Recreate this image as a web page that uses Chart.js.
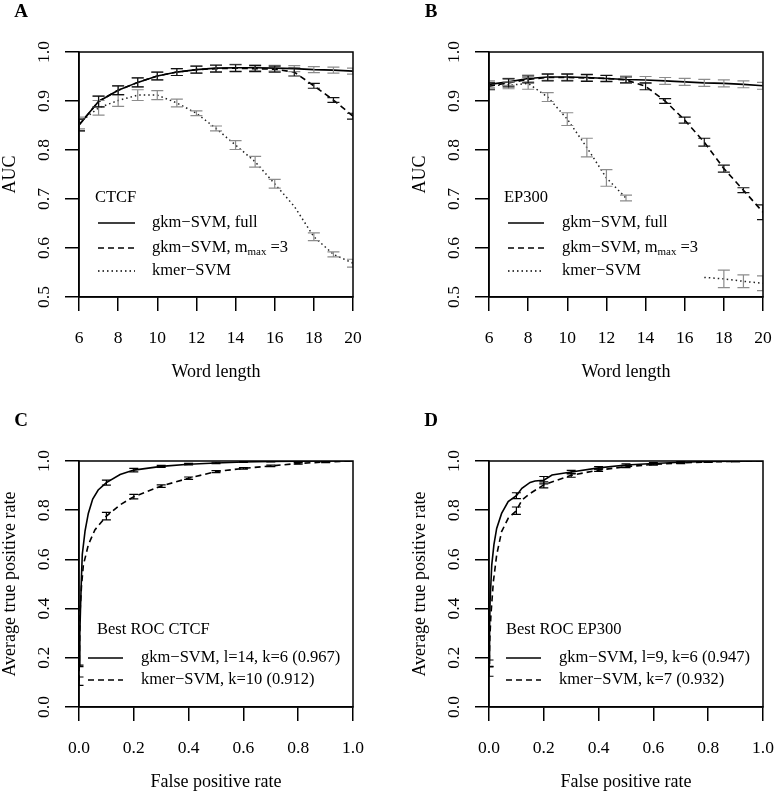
<!DOCTYPE html>
<html>
<head>
<meta charset="utf-8">
<script src="https://cdn.jsdelivr.net/npm/chart.js@4.4.1/dist/chart.umd.min.js"></script>
<style>
  html, body { margin: 0; padding: 0; background: #fff; }
  #wrap { position: relative; width: 778px; height: 795px; }
  canvas { position: absolute; }
</style>
</head>
<body>
<div id="wrap">
  <canvas id="panelA" width="389" height="400" style="left:0;top:0;width:389px;height:400px"></canvas>
  <canvas id="panelB" width="389" height="400" style="left:389px;top:0;width:389px;height:400px"></canvas>
  <canvas id="panelC" width="389" height="395" style="left:0;top:400px;width:389px;height:395px"></canvas>
  <canvas id="panelD" width="389" height="395" style="left:389px;top:400px;width:389px;height:395px"></canvas>
</div>
<script>
const SERIF = '"Liberation Serif", "Times New Roman", serif';

// ---- A / B : AUC vs word length ----
const wordLength = [6, 7, 8, 9, 10, 11, 12, 13, 14, 15, 16, 17, 18, 19, 20];

const ctcfFull     = [0.851, 0.899, 0.922, 0.938, 0.951, 0.959, 0.964, 0.967, 0.968, 0.968, 0.967, 0.966, 0.964, 0.963, 0.961];
const ctcfFullErr  = [0.012, 0.011, 0.009, 0.009, 0.008, 0.007, 0.007, 0.007, 0.007, 0.006, 0.006, 0.006, 0.006, 0.006, 0.006];
const ctcfMmax3    = [0.851, 0.899, 0.922, 0.938, 0.951, 0.959, 0.964, 0.966, 0.967, 0.966, 0.965, 0.959, 0.931, 0.902, 0.869];
const ctcfMmax3Err = [0.012, 0.011, 0.009, 0.009, 0.008, 0.007, 0.007, 0.007, 0.007, 0.006, 0.006, 0.008, 0.005, 0.005, 0.006];
const ctcfKmer     = [0.855, 0.886, 0.901, 0.912, 0.912, 0.896, 0.875, 0.844, 0.810, 0.776, 0.731, 0.685, 0.623, 0.587, 0.569];
const ctcfKmerErr  = [0.012, 0.015, 0.012, 0.011, 0.009, 0.008, 0.005, 0.005, 0.009, 0.011, 0.009, 0, 0.008, 0.005, 0.008];

const ep300Full     = [0.934, 0.939, 0.946, 0.949, 0.949, 0.948, 0.946, 0.944, 0.943, 0.941, 0.939, 0.937, 0.936, 0.934, 0.931];
const ep300FullErr  = [0.007, 0.007, 0.007, 0.007, 0.007, 0.007, 0.007, 0.007, 0.007, 0.007, 0.007, 0.007, 0.007, 0.007, 0.007];
const ep300Mmax3    = [0.930, 0.937, 0.944, 0.948, 0.948, 0.947, 0.946, 0.943, 0.930, 0.900, 0.861, 0.816, 0.762, 0.718, 0.673];
const ep300Mmax3Err = [0.007, 0.008, 0.007, 0.007, 0.007, 0.007, 0.006, 0.006, 0.007, 0.005, 0.006, 0.008, 0.007, 0.005, 0.015];
const ep300Kmer     = [0.932, 0.932, 0.936, 0.908, 0.863, 0.805, 0.743, 0.702, null, null, null, 0.540, 0.537, 0.532, 0.528];
const ep300KmerErr  = [0.006, 0.007, 0.012, 0.009, 0.013, 0.019, 0.017, 0.006, null, null, null, 0, 0.018, 0.013, 0.015];

// ---- C / D : best ROC curves ----
const ctcfGkmFpr = [0, 0.003, 0.006, 0.009, 0.012, 0.022, 0.034, 0.05, 0.07, 0.1, 0.15, 0.2, 0.3, 0.4, 0.5, 0.6, 0.7, 0.8, 0.9, 1.0];
const ctcfGkmTpr = [0.167, 0.30, 0.42, 0.53, 0.62, 0.715, 0.787, 0.845, 0.882, 0.912, 0.945, 0.963, 0.978, 0.987, 0.992, 0.996, 0.998, 0.999, 1.0, 1.0];
const ctcfGkmErr = [0.003, null, null, null, null, null, null, null, null, 0.010, null, 0.007, 0.004, 0.003, 0.003, 0.002, 0.002, 0.002, 0.002, null];

const ctcfKmerFpr = [0, 0.002, 0.004, 0.009, 0.016, 0.034, 0.058, 0.1, 0.15, 0.2, 0.3, 0.4, 0.5, 0.6, 0.7, 0.8, 0.9, 1.0];
const ctcfKmerTpr = [0.105, 0.25, 0.39, 0.49, 0.577, 0.659, 0.72, 0.776, 0.822, 0.855, 0.898, 0.930, 0.957, 0.970, 0.980, 0.990, 0.996, 1.0];
const ctcfKmerRocErr = [0.017, null, null, null, null, null, null, 0.015, null, 0.009, 0.005, 0.005, 0.004, 0.003, 0.003, 0.003, 0.003, null];

const ep300GkmFpr = [0, 0.002, 0.004, 0.01, 0.018, 0.028, 0.046, 0.07, 0.1, 0.12, 0.15, 0.168, 0.2, 0.23, 0.3, 0.4, 0.5, 0.6, 0.7, 0.8, 0.9, 1.0];
const ep300GkmTpr = [0.177, 0.32, 0.43, 0.577, 0.66, 0.726, 0.787, 0.835, 0.859, 0.889, 0.913, 0.919, 0.922, 0.943, 0.955, 0.972, 0.984, 0.990, 0.995, 0.998, 0.999, 1.0];
const ep300GkmErr = [0.014, null, null, null, null, null, null, null, 0.012, null, null, null, 0.015, null, 0.007, 0.005, 0.004, 0.003, 0.003, 0.002, 0.002, null];

const ep300KmerFpr = [0, 0.003, 0.007, 0.016, 0.028, 0.046, 0.07, 0.1, 0.12, 0.15, 0.18, 0.2, 0.3, 0.4, 0.5, 0.6, 0.7, 0.8, 0.9, 1.0];
const ep300KmerTpr = [0.145, 0.28, 0.374, 0.51, 0.618, 0.713, 0.767, 0.798, 0.841, 0.868, 0.889, 0.903, 0.942, 0.963, 0.977, 0.986, 0.992, 0.996, 0.999, 1.0];
const ep300KmerRocErr = [0.02, null, null, null, null, null, null, 0.015, null, null, null, 0.012, 0.008, 0.005, 0.004, 0.003, 0.003, 0.002, 0.002, null];

function pts(xs, ys) {
    return xs.map((x, i) => ({ x: x, y: ys[i] }));
}

// error bars drawn on top of the lines, clipped to the plot box
const errorBars = {
    id: 'errorBars',
    afterDatasetsDraw(chart) {
        const { ctx, chartArea: a, scales: { x, y } } = chart;
        ctx.save();
        ctx.beginPath();
        ctx.rect(a.left, a.top, a.right - a.left, a.bottom - a.top);
        ctx.clip();
        const sets = chart.data.datasets.slice().sort((p, q) => (p.errZ || 0) - (q.errZ || 0));
        sets.forEach(ds => {
            if (!ds.errors) return;
            ctx.strokeStyle = ds.errColor;
            ctx.lineWidth = 1.2;
            ctx.setLineDash([]);
            ds.data.forEach((p, i) => {
                const e = ds.errors[i];
                if (p.y == null || !e) return;
                const px = x.getPixelForValue(p.x);
                const top = y.getPixelForValue(p.y + e);
                const bot = y.getPixelForValue(p.y - e);
                const h = ds.capHalf;
                ctx.beginPath();
                ctx.moveTo(px, top); ctx.lineTo(px, bot);
                ctx.moveTo(px - h, top); ctx.lineTo(px + h, top);
                ctx.moveTo(px - h, bot); ctx.lineTo(px + h, bot);
                ctx.stroke();
            });
        });
        ctx.restore();
    }
};

// R-like frame, tick labels, titles and legend
const rFrame = {
    id: 'rFrame',
    afterDraw(chart, args, o) {
        const { ctx, chartArea: a, scales: { x, y } } = chart;
        ctx.save();
        ctx.strokeStyle = '#000';
        ctx.lineWidth = 1.5;
        ctx.setLineDash([]);
        ctx.strokeRect(a.left, a.top, a.right - a.left, a.bottom - a.top);

        ctx.fillStyle = '#000';
        ctx.textAlign = 'center';
        ctx.textBaseline = 'middle';
        ctx.font = 'bold 19px ' + SERIF;
        ctx.fillText(o.letter, a.left - 58, a.top - 40);

        ctx.font = '17.5px ' + SERIF;
        x.ticks.forEach(t => {
            ctx.fillText(o.xFmt(t.value), x.getPixelForValue(t.value), a.bottom + 41);
        });
        y.ticks.forEach(t => {
            ctx.save();
            ctx.translate(a.left - 35, y.getPixelForValue(t.value));
            ctx.rotate(-Math.PI / 2);
            ctx.fillText(o.yFmt(t.value), 0, 0);
            ctx.restore();
        });

        ctx.font = '18px ' + SERIF;
        ctx.fillText(o.xTitle, (a.left + a.right) / 2, a.bottom + 75);
        ctx.save();
        ctx.translate(a.left - 69, (a.top + a.bottom) / 2);
        ctx.rotate(-Math.PI / 2);
        ctx.fillText(o.yTitle, 0, 0);
        ctx.restore();

        // legend
        const lg = o.legend;
        ctx.textAlign = 'left';
        ctx.font = '16.5px ' + SERIF;
        ctx.fillText(lg.title, a.left + lg.titleX, a.bottom + lg.titleY);
        lg.rows.forEach(r => {
            const ry = a.bottom + r.y;
            ctx.lineWidth = 1.5;
            ctx.setLineDash(r.dash);
            ctx.beginPath();
            ctx.moveTo(a.left + lg.x1, ry);
            ctx.lineTo(a.left + lg.x2, ry);
            ctx.stroke();
            ctx.setLineDash([]);
            let tx = a.left + lg.textX;
            ctx.font = '16.5px ' + SERIF;
            ctx.fillText(r.text, tx, ry);
            if (r.sub) {
                tx += ctx.measureText(r.text).width;
                ctx.font = '11px ' + SERIF;
                ctx.fillText(r.sub, tx, ry + 4);
                tx += ctx.measureText(r.sub).width;
                ctx.font = '16.5px ' + SERIF;
                ctx.fillText(r.tail, tx, ry);
            }
        });
        ctx.restore();
    }
};

function makePanel(id, area, datasets, xr, yr, style) {
    const canvas = document.getElementById(id);
    const W = canvas.width, H = canvas.height;
    const axisGrid = { drawOnChartArea: false, drawTicks: true, tickLength: 14, color: '#000', lineWidth: 1.5 };
    return new Chart(canvas, {
        type: 'line',
        data: { datasets: datasets },
        options: {
            responsive: false,
            animation: false,
            events: [],
            layout: { padding: { left: 0, top: area.top, right: W - area.right, bottom: 0 } },
            elements: { point: { radius: 0 }, line: { tension: 0, borderColor: '#000', borderWidth: 1.6 } },
            spanGaps: false,
            plugins: { legend: { display: false }, tooltip: { enabled: false }, rFrame: style },
            scales: {
                x: {
                    type: 'linear', min: xr.min, max: xr.max,
                    ticks: { stepSize: xr.step, display: false },
                    grid: axisGrid,
                    border: { display: true, color: '#000', width: 1.5 },
                    afterFit: s => { s.height = H - area.bottom; }
                },
                y: {
                    type: 'linear', min: yr.min, max: yr.max,
                    ticks: { stepSize: yr.step, display: false },
                    grid: axisGrid,
                    border: { display: true, color: '#000', width: 1.5 },
                    afterFit: s => { s.width = area.left; }
                }
            }
        },
        plugins: [errorBars, rFrame]
    });
}

const SOLID = [], DASHED = [6, 4], DOTTED = [1.5, 3];
const GRAY = '#8c8c8c', DARK = '#111';

function aucSets(full, fullErr, mmax, mmaxErr, kmer, kmerErr) {
    return [
        { data: pts(wordLength, full), errors: fullErr, errColor: GRAY, errZ: 1, capHalf: 6,
          borderColor: '#000', borderWidth: 1.6, borderDash: SOLID },
        { data: pts(wordLength, mmax), errors: mmaxErr, errColor: DARK, errZ: 2, capHalf: 6,
          borderColor: '#000', borderWidth: 1.6, borderDash: DASHED },
        { data: pts(wordLength, kmer), errors: kmerErr, errColor: GRAY, errZ: 0, capHalf: 6,
          borderColor: '#222', borderWidth: 1.5, borderDash: DOTTED }
    ];
}

function rocSets(gx, gy, ge, kx, ky, ke) {
    return [
        { data: pts(gx, gy), errors: ge, errColor: '#000', errZ: 1, capHalf: 4.5,
          borderColor: '#000', borderWidth: 1.6, borderDash: SOLID },
        { data: pts(kx, ky), errors: ke, errColor: '#000', errZ: 0, capHalf: 4.5,
          borderColor: '#000', borderWidth: 1.6, borderDash: DASHED }
    ];
}

const aucRows = [
    { y: -74, dash: SOLID, text: 'gkm\u2212SVM, full' },
    { y: -49, dash: DASHED, text: 'gkm\u2212SVM, m', sub: 'max', tail: ' =3' },
    { y: -26, dash: DOTTED, text: 'kmer\u2212SVM' }
];

makePanel('panelA', { left: 79, top: 52, right: 353, bottom: 297 },
    aucSets(ctcfFull, ctcfFullErr, ctcfMmax3, ctcfMmax3Err, ctcfKmer, ctcfKmerErr),
    { min: 6, max: 20, step: 2 }, { min: 0.5, max: 1.0, step: 0.1 },
    { letter: 'A', xTitle: 'Word length', yTitle: 'AUC',
      xFmt: v => String(Math.round(v)), yFmt: v => v.toFixed(1),
      legend: { title: 'CTCF', titleX: 16, titleY: -99, x1: 19, x2: 56, textX: 73, rows: aucRows } });

makePanel('panelB', { left: 100, top: 52, right: 374, bottom: 297 },
    aucSets(ep300Full, ep300FullErr, ep300Mmax3, ep300Mmax3Err, ep300Kmer, ep300KmerErr),
    { min: 6, max: 20, step: 2 }, { min: 0.5, max: 1.0, step: 0.1 },
    { letter: 'B', xTitle: 'Word length', yTitle: 'AUC',
      xFmt: v => String(Math.round(v)), yFmt: v => v.toFixed(1),
      legend: { title: 'EP300', titleX: 15, titleY: -99, x1: 19, x2: 55, textX: 73, rows: aucRows } });

makePanel('panelC', { left: 79, top: 61, right: 353, bottom: 307 },
    rocSets(ctcfGkmFpr, ctcfGkmTpr, ctcfGkmErr, ctcfKmerFpr, ctcfKmerTpr, ctcfKmerRocErr),
    { min: 0, max: 1, step: 0.2 }, { min: 0, max: 1, step: 0.2 },
    { letter: 'C', xTitle: 'False positive rate', yTitle: 'Average true positive rate',
      xFmt: v => v.toFixed(1), yFmt: v => v.toFixed(1),
      legend: { title: 'Best ROC CTCF', titleX: 18, titleY: -77, x1: 9, x2: 44, textX: 62,
        rows: [ { y: -49, dash: SOLID, text: 'gkm\u2212SVM, l=14, k=6 (0.967)' },
                { y: -27, dash: DASHED, text: 'kmer\u2212SVM, k=10 (0.912)' } ] } });

makePanel('panelD', { left: 100, top: 61, right: 374, bottom: 307 },
    rocSets(ep300GkmFpr, ep300GkmTpr, ep300GkmErr, ep300KmerFpr, ep300KmerTpr, ep300KmerRocErr),
    { min: 0, max: 1, step: 0.2 }, { min: 0, max: 1, step: 0.2 },
    { letter: 'D', xTitle: 'False positive rate', yTitle: 'Average true positive rate',
      xFmt: v => v.toFixed(1), yFmt: v => v.toFixed(1),
      legend: { title: 'Best ROC EP300', titleX: 17, titleY: -77, x1: 17, x2: 52, textX: 70,
        rows: [ { y: -49, dash: SOLID, text: 'gkm\u2212SVM, l=9, k=6 (0.947)' },
                { y: -27, dash: DASHED, text: 'kmer\u2212SVM, k=7 (0.932)' } ] } });
</script>
</body>
</html>
